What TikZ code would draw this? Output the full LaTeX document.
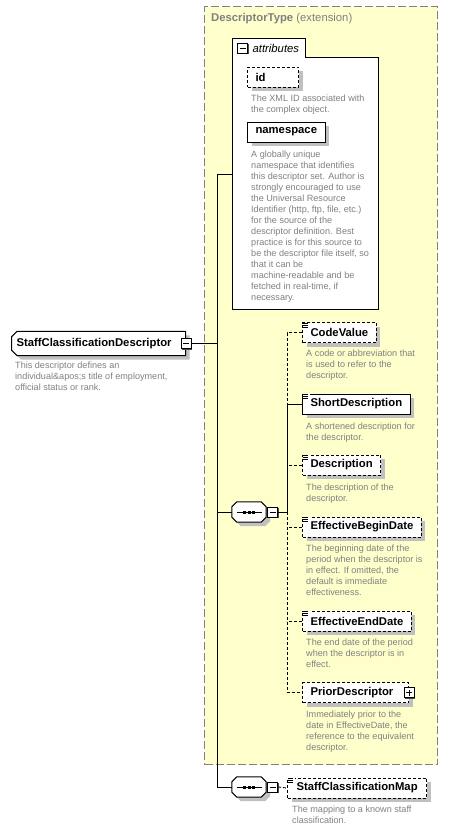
\documentclass[tikz,border=0pt]{standalone}
\usepackage{fontspec}
\setmainfont{Liberation Sans}
\usetikzlibrary{positioning}
\usetikzlibrary{shapes.misc}
\usetikzlibrary{shadows}
\definecolor{extfill}{RGB}{255,255,204}
\definecolor{docgray}{RGB}{128,128,128}
\definecolor{shadegray}{RGB}{192,192,192}
\tikzset{
elem/.style={ % element box
draw, line width=1pt, fill=white,
minimum height=20pt, inner xsep=8pt, anchor=west,
font=\fontsize{11.3}{13}\selectfont\bfseries,
drop shadow={shadow xshift=4pt, shadow yshift=-4pt, fill=shadegray, opacity=1}},
optelem/.style={elem, dash pattern=on 3pt off 2pt}, % optional element
rootelem/.style={elem, chamfered rectangle,
chamfered rectangle corners={north west, south west},
chamfered rectangle xsep=2pt, text width=164pt, align=left, inner xsep=3pt},
doc/.style={ % grey annotation under a box
anchor=north west, align=left, inner sep=0pt, text=docgray,
font=\fontsize{9.1}{11}\selectfont},
pmbox/.style={draw, line width=0.8pt, fill=white, minimum size=10pt, inner sep=0pt,
drop shadow={shadow xshift=1.2pt, shadow yshift=-1.2pt, fill=black!70, opacity=1},
path picture={\draw[line width=0.8pt] ([xshift=2pt]path picture bounding box.west)
-- ([xshift=-2pt]path picture bounding box.east);}},
plusbox/.style={pmbox,
path picture={\draw[line width=0.8pt] ([xshift=2pt]path picture bounding box.west)
-- ([xshift=-2pt]path picture bounding box.east)
([yshift=2pt]path picture bounding box.south) -- ([yshift=-2pt]path picture bounding box.north);}},
seqbox/.style={minimum width=34pt, minimum height=20pt, inner sep=0pt}, % sequence compositor
extbox/.style={draw=docgray, fill=extfill, line width=1.2pt, dash pattern=on 8pt off 3pt,
anchor=north west, minimum width=233pt, minimum height=758pt, inner sep=0pt},
extlabel/.style={anchor=west, inner sep=0pt, text=docgray, font=\fontsize{11.3}{13}\selectfont},
attrarea/.style={anchor=north west, minimum width=146pt, minimum height=252pt, inner sep=0pt},
attrlabel/.style={inner sep=0pt, font=\fontsize{11.3}{13}\selectfont\itshape},
conn/.style={draw, line width=0.9pt},
optconn/.style={conn, dash pattern=on 3pt off 2pt}}
% small stripes in the corner of simple-content elements
\newcommand{\simplemark}[1]{%
\fill[white] ([shift={(0.5,0.5)}]#1.north west) rectangle ++(7,6);
\foreach \k in {1,3,5}
\draw[line width=0.8pt] ([shift={(1,\k)}]#1.north west) -- ++(5,0);}
% octagon round a compositor node, shifted by (#2,#3)
\newcommand{\octpath}[3]{([shift={(#2+5,#3)}]#1.north west) -- ([shift={(#2-5,#3)}]#1.north east)
-- ([shift={(#2,#3+5)}]#1.north east) -- ([shift={(#2,#3-5)}]#1.south east)
-- ([shift={(#2-5,#3)}]#1.south east) -- ([shift={(#2+5,#3)}]#1.south west)
-- ([shift={(#2,#3-5)}]#1.south west) -- ([shift={(#2,#3+5)}]#1.north west) -- cycle}
\newcommand{\seqshape}[1]{%
\fill[shadegray] \octpath{#1}{4}{4};
\draw[line width=1pt, fill=white] \octpath{#1}{0}{0};
\draw[line width=0.9pt] ([xshift=-12.5pt]#1.center) -- ([xshift=12.5pt]#1.center);
\foreach \d in {-6,-1.5,3}
\fill ([shift={(\d,-1.5)}]#1.center) rectangle ++(3,3);}

\begin{document}
\begin{tikzpicture}[x=1pt, y=-1pt]
\useasboundingbox (0,0) rectangle (453,831);
% extension frame
\node[extbox] (ext) at (204,6) {};
\node[extlabel] (extLabel) at (211,19) {\textbf{DescriptorType} (extension)};
% attributes
\node[attrarea] (attrs) at (232,57) {};
\draw[line width=1pt, fill=white] (attrs.south west) -- ([shift={(0,-19)}]attrs.north west)
-- ([shift={(73,-19)}]attrs.north west) |- (attrs.north east) |- (attrs.south west) -- cycle;
\node[pmbox] (attrMinus) at (242.5,48) {};
\node[attrlabel, right=4.5pt of attrMinus] (attrLabel) {attributes};
\node[optelem, text width=35pt, align=left] (id) at (247,77) {id};
\node[doc] (idDoc) at (251,95) {The XML ID associated with\\the complex object.};
\node[elem] (ns) at (247,132) {namespace};
\node[doc] (nsDoc) at (251,151) {A globally unique\\namespace that identifies\\this descriptor set. Author is\\strongly encouraged to use\\the Universal Resource\\Identifier (http, ftp, file, etc.)\\for the source of the\\descriptor definition. Best\\practice is for this source to\\be the descriptor file itself, so\\that it can be\\machine-readable and be\\fetched in real-time, if\\necessary.};
% root element
\node[rootelem] (scd) at (11,343.5) {StaffClassificationDescriptor};
\node[pmbox] (scdMinus) at (scd.east) {};
\node[doc] (scdDoc) at (15,362) {This descriptor defines an\\individual\&apos;s title of employment,\\official status or rank.};
% first sequence
\node[seqbox] (seq1) at (249,512) {};
\seqshape{seq1}
\node[pmbox, right=1pt of seq1] (seq1Minus) {};
\node[optelem] (codeval) at (302,332.5) {CodeValue};
\node[doc] (codevalDoc) at (306,350) {A code or abbreviation that\\is used to refer to the\\descriptor.};
\node[elem] (shortdesc) at (302,404) {ShortDescription};
\node[doc] (shortdescDoc) at (306,423) {A shortened description for\\the descriptor.};
\node[optelem] (desc) at (302,465) {Description};
\node[doc] (descDoc) at (306,484) {The description of the\\descriptor.};
\node[optelem] (effbegin) at (302,527) {EffectiveBeginDate};
\node[doc] (effbeginDoc) at (306,545) {The beginning date of the\\period when the descriptor is\\in effect. If omitted, the\\default is immediate\\effectiveness.};
\node[optelem] (effend) at (302,621) {EffectiveEndDate};
\node[doc] (effendDoc) at (306,639) {The end date of the period\\when the descriptor is in\\effect.};
\node[optelem, text width=90pt, align=left] (prior) at (302,692.5) {PriorDescriptor};
\node[plusbox] (priorPlus) at (prior.east) {};
\node[doc] (priorDoc) at (306,711) {Immediately prior to the\\date in EffectiveDate, the\\reference to the equivalent\\descriptor.};
% second sequence
\node[seqbox] (seq2) at (249,787) {};
\seqshape{seq2}
\node[pmbox, right=1pt of seq2] (seq2Minus) {};
\node[optelem, inner xsep=9pt] (scmap) at (287,788) {StaffClassificationMap};
\node[doc] (scmapDoc) at (292,806) {The mapping to a known staff\\classification.};
\foreach \n in {codeval,shortdesc,desc,effbegin,effend,scmap}
\simplemark{\n};
% connectors
\coordinate (attrIn) at (232,174);
\coordinate (trunk) at (217,174);
\coordinate (bus) at (287,512);
\draw[conn] (attrIn) -- (trunk) |- (seq2.west);
\draw[conn] (scdMinus.east) -- (scdMinus.east -| trunk);
\draw[conn] (seq1.west) -- (seq1.west -| trunk);
\draw[conn] (seq1Minus.east) -- (bus);
\draw[optconn] (codeval.west) -| (shortdesc.west -| bus);
\draw[conn] (shortdesc.west) -| (bus);
\draw[optconn] (desc.west) -- (desc.west -| bus);
\draw[optconn] (bus) |- (prior.west);
\draw[optconn] (effbegin.west) -- (effbegin.west -| bus);
\draw[optconn] (effend.west) -- (effend.west -| bus);
\draw[optconn] (seq2Minus.east) -- (scmap.west);
\end{tikzpicture}
\end{document}
